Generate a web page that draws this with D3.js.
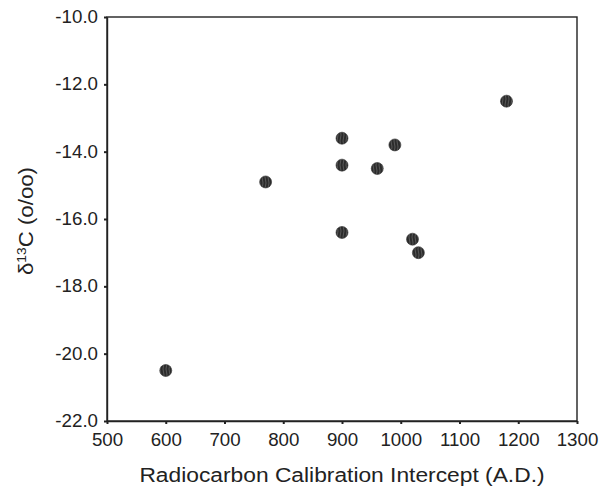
<!DOCTYPE html>
<html>
<head>
<meta charset="utf-8">
<script src="https://cdn.jsdelivr.net/npm/d3@7"></script>
<style>
  html, body { margin: 0; padding: 0; background: #fff; }
  svg { display: block; font-family: "Liberation Sans", Arial, Helvetica, sans-serif; }
</style>
</head>
<body>
<svg id="chart" width="599" height="487"></svg>
<script>
// Data
const interceptAD = [600, 770, 900, 900, 900, 960, 990, 1020, 1030, 1180];
const delta13C   = [-20.5, -14.9, -13.6, -14.4, -16.4, -14.5, -13.8, -16.6, -17.0, -12.5];
const xTicks = [500, 600, 700, 800, 900, 1000, 1100, 1200, 1300];
const yTicks = [-10, -12, -14, -16, -18, -20, -22];
const xTitle = "Radiocarbon Calibration Intercept (A.D.)";

const W = 599, H = 487;
const margin = {left: 107, right: 22, top: 17, bottom: 66};
const svg = d3.select("#chart");

const x = d3.scaleLinear().domain([500, 1300]).range([margin.left, W - margin.right]);
const y = d3.scaleLinear().domain([-22, -10]).range([H - margin.bottom, margin.top]);

// stripe pattern for markers
const defs = svg.append("defs");
const pat = defs.append("pattern").attr("id", "stripes")
  .attr("patternUnits", "userSpaceOnUse").attr("width", 3).attr("height", 12);
pat.append("rect").attr("width", 3).attr("height", 12).attr("fill", "#2b2b2b");
pat.append("path").attr("d", "M1.5,0 Q2.5,3 1.5,6 Q0.5,9 1.5,12")
  .attr("stroke", "#6a6a6a").attr("stroke-width", 0.7).attr("fill", "none");

// frame
svg.append("rect")
  .attr("x", x(500)).attr("y", y(-10))
  .attr("width", x(1300) - x(500)).attr("height", y(-22) - y(-10))
  .attr("fill", "none").attr("stroke", "#222").attr("stroke-width", 1.4);

const xAxis = svg.append("g")
  .attr("transform", `translate(0,${y(-22)})`)
  .call(d3.axisBottom(x).tickValues(xTicks).tickFormat(d3.format("d")).tickSizeInner(3).tickSizeOuter(0).tickPadding(10));
const yAxis = svg.append("g")
  .attr("transform", `translate(${x(500)},0)`)
  .call(d3.axisLeft(y).tickValues(yTicks).tickFormat(d => d.toFixed(1)).tickSizeInner(3).tickSizeOuter(0).tickPadding(6));

[xAxis, yAxis].forEach(g => {
  g.select(".domain").attr("stroke", "#222").attr("stroke-width", 1.4);
  g.selectAll(".tick line").attr("stroke", "#222").attr("stroke-width", 2);
  g.selectAll(".tick text").attr("fill", "#222").style("font-size", "17.5px");
});
xAxis.selectAll(".tick text").attr("transform", "scale(1.07,1)");
yAxis.selectAll(".tick text").attr("transform", "translate(-9,0) scale(1.07,1) translate(9,0)");

// points
const pts = interceptAD.map((v, i) => ({x: v, y: delta13C[i]}));
svg.append("g").selectAll("circle").data(pts).join("circle")
  .attr("cx", d => x(d.x)).attr("cy", d => y(d.y)).attr("r", 6)
  .attr("fill", "url(#stripes)").attr("stroke", "#2b2b2b").attr("stroke-width", 0.6);

// axis titles
svg.append("text")
  .attr("x", (x(500) + x(1300)) / 2).attr("y", 482)
  .attr("text-anchor", "middle").attr("fill", "#222")
  .attr("transform", `translate(${(x(500) + x(1300)) / 2},0) scale(1.085,1) translate(${-(x(500) + x(1300)) / 2},0)`)
  .style("font-size", "21px").text(xTitle);

const yt = svg.append("text")
  .attr("transform", `translate(33,${(y(-10) + y(-22)) / 2 + 2}) rotate(-90) scale(1.06,1)`)
  .attr("text-anchor", "middle").attr("fill", "#222").style("font-size", "21px");
yt.append("tspan").text("δ");
yt.append("tspan").attr("baseline-shift", "super").style("font-size", "13px").text("13");
yt.append("tspan").text("C (o/oo)");
</script>
</body>
</html>
